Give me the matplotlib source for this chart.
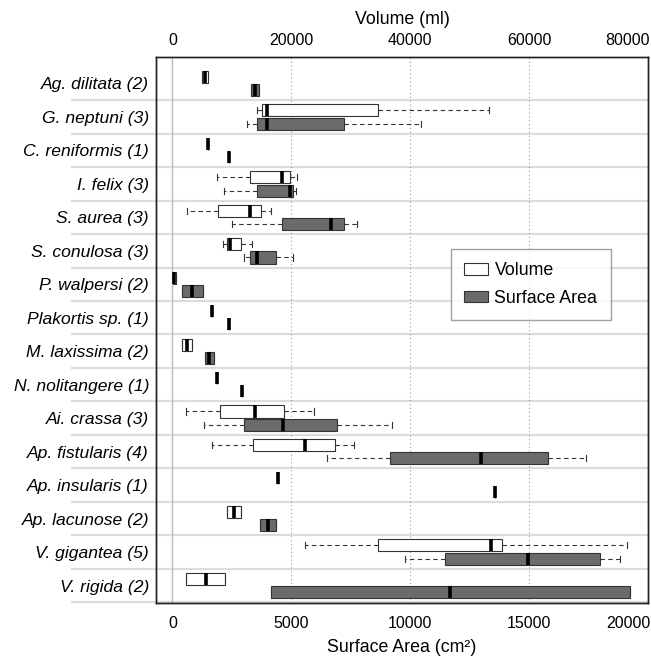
import matplotlib
matplotlib.use("Agg")
import matplotlib.pyplot as plt
from matplotlib.patches import Patch
import matplotlib.transforms as mtransforms

plt.rcParams['font.family'] = ['Liberation Sans', 'DejaVu Sans']

species = ["Ag. dilitata (2)", "G. neptuni (3)", "C. reniformis (1)", "I. felix (3)",
           "S. aurea (3)", "S. conulosa (3)", "P. walpersi (2)", "Plakortis sp. (1)",
           "M. laxissima (2)", "N. nolitangere (1)", "Ai. crassa (3)", "Ap. fistularis (4)",
           "Ap. insularis (1)", "Ap. lacunose (2)", "V. gigantea (5)", "V. rigida (2)"]

# volume (ml): whisker low, q1, median, q3, whisker high
vol_lo  = [5000, 14265, 5930, 7440, 2517, 8447, 100, 6601, 1678, 7440, 2238, 6713, 17733, 9118, 22320, 2349]
vol_q1  = [5000, 15104, 5930, 12978, 7720, 9118, 100, 6601, 1678, 7440, 8055, 13482, 17733, 9118, 34627, 2349]
vol_med = [5482, 15831, 5930, 18516, 13034, 9734, 330, 6601, 2517, 7440, 13817, 22264, 17733, 10293, 53535, 5594]
vol_q3  = [6042, 34571, 5930, 19859, 14824, 11580, 560, 6601, 3356, 7440, 18852, 27411, 17733, 11524, 55437, 8894]
vol_hi  = [6042, 53199, 5930, 20978, 16614, 13370, 560, 6601, 3356, 7440, 23886, 30543, 17733, 11524, 76470, 8894]

# surface area (cm2)
sa_lo  = [3288, 3120, 2364, 2182, 2518, 2994, 392, 2392, 1371, 2938, 1343, 6491, 13570, 3693, 9765, 4141]
sa_q1  = [3288, 3553, 2364, 3553, 4589, 3274, 392, 2392, 1371, 2938, 2994, 9149, 13570, 3693, 11444, 4141]
sa_med = [3470, 3987, 2364, 4925, 6659, 3539, 839, 2392, 1553, 2938, 4659, 12983, 13570, 4015, 14969, 11682]
sa_q3  = [3651, 7233, 2364, 5064, 7219, 4337, 1287, 2392, 1749, 2938, 6939, 15795, 13570, 4337, 17977, 19222]
sa_hi  = [3651, 10464, 2364, 5190, 7764, 5078, 1287, 2392, 1749, 2938, 9219, 17404, 13570, 4337, 18816, 19222]

sa_ticks = [0, 5000, 10000, 15000, 20000]
vol_ticks = [0, 20000, 40000, 60000, 80000]

sa_color = "#6b6b6b"


def make_stats(lo, q1, med, q3, hi):
    return [dict(whislo=a, q1=b, med=c, q3=d, whishi=e, fliers=[])
            for a, b, c, d, e in zip(lo, q1, med, q3, hi)]


fig = plt.figure(figsize=(6.51, 6.57), dpi=100)
ax = fig.add_axes([0.2396, 0.0817, 0.7563, 0.8311])
ax2 = ax.twiny()

n = len(species)
rows = list(range(n))

# row separators, extended under the labels
trans = mtransforms.blended_transform_factory(ax.transAxes, ax.transData)
for r in rows:
    ax.plot([-0.171, 1], [r + 0.5, r + 0.5], color="#dcdcdc", lw=1.6,
            transform=trans, clip_on=False, zorder=0)

ax.axvline(0, color="#bbbbbb", lw=1.0, zorder=0)
for g in sa_ticks[1:-1]:
    ax.axvline(g, color="#999999", lw=0.8, ls=(0, (1, 2.5)), zorder=0)

common = dict(vert=False, widths=0.36, capwidths=0.18, patch_artist=True,
              showfliers=False,
              medianprops=dict(color="black", lw=2.6, solid_capstyle="butt"),
              whiskerprops=dict(color="#333333", lw=0.8, ls=(0, (4, 3))),
              capprops=dict(color="#333333", lw=0.8),
              manage_ticks=False)

ax2.bxp(make_stats(vol_lo, vol_q1, vol_med, vol_q3, vol_hi),
        positions=[r - 0.2 for r in rows],
        boxprops=dict(facecolor="white", edgecolor="#333333", lw=0.8), **common)
ax.bxp(make_stats(sa_lo, sa_q1, sa_med, sa_q3, sa_hi),
       positions=[r + 0.2 for r in rows],
       boxprops=dict(facecolor=sa_color, edgecolor="#333333", lw=0.8), **common)

ax.set_xlim(-690, 20010)
ax2.set_xlim(-690 * 4, 20010 * 4)
ax.set_ylim(n - 0.47, -0.78)

ax.set_yticks(rows)
ax.set_yticklabels(species, fontstyle="italic", fontsize=12.6)
ax.set_xticks(sa_ticks)
ax2.set_xticks(vol_ticks)
ax.tick_params(axis="x", length=0, pad=9, labelsize=11.5)
ax2.tick_params(axis="x", length=0, pad=7, labelsize=11.5)
ax.tick_params(axis="y", length=0, pad=5)

# keep the last tick label inside the figure, like the original
shift = mtransforms.ScaledTranslation(2 / 100, 0, fig.dpi_scale_trans)
for a in (ax, ax2):
    lab = a.get_xticklabels()[-1]
    lab.set_horizontalalignment("right")
    lab.set_transform(lab.get_transform() + shift)

ax.set_xlabel("Surface Area (cm²)", fontsize=12.8, labelpad=6)
ax2.set_xlabel("Volume (ml)", fontsize=12.8, labelpad=6)

for a in (ax, ax2):
    for s in a.spines.values():
        s.set_linewidth(1.0)
        s.set_color("#222222")

handles = [Patch(facecolor="white", edgecolor="#333333", lw=0.8, label="Volume"),
           Patch(facecolor=sa_color, edgecolor="#333333", lw=0.8, label="Surface Area")]
leg = ax2.legend(handles=handles, loc="upper left", bbox_to_anchor=(0.599, 0.649),
                 fontsize=12.8, frameon=True, fancybox=False, edgecolor="#888888",
                 borderpad=0.75, handlelength=1.35, handleheight=0.6, labelspacing=0.6,
                 handletextpad=0.35, borderaxespad=0)
leg.get_frame().set_linewidth(1.0)

fig.savefig("out.png", dpi=100)
